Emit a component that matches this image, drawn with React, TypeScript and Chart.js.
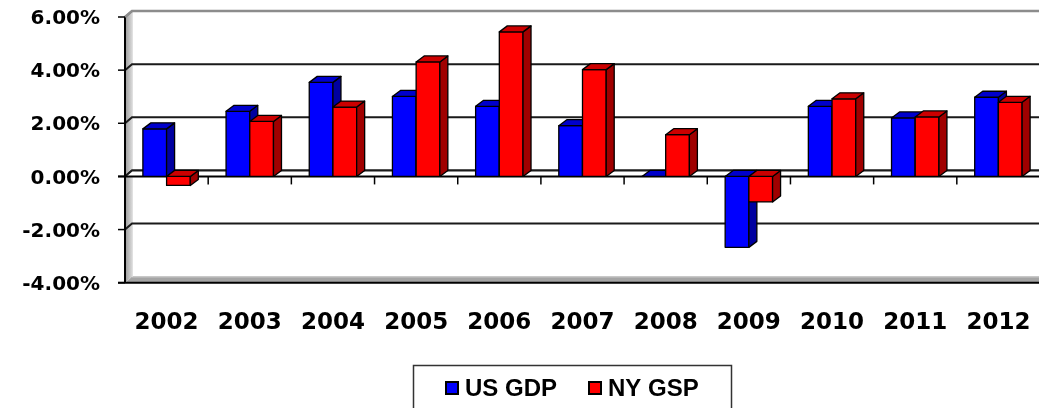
import React, { useEffect, useRef } from 'react';
import { Chart, registerables } from 'chart.js';
Chart.register(...registerables);

const years = ['2002', '2003', '2004', '2005', '2006', '2007', '2008', '2009', '2010', '2011', '2012'];
const usGdp = [1.79, 2.45, 3.54, 3.01, 2.64, 1.91, 0.0, -2.67, 2.64, 2.2, 2.98];
const nyGsp = [-0.34, 2.07, 2.61, 4.31, 5.44, 4.02, 1.57, -0.96, 2.92, 2.24, 2.79];
const yMin = -4;
const yMax = 6;
const yStep = 2;

const seriesColors = [
  { front: '#0000FF', top: '#0000CC', side: '#0000A0' },
  { front: '#FF0000', top: '#CC0000', side: '#A00000' },
];

const BDX = 8, BDY = 6; // bar depth
const WDX = 7, WDY = 6; // wall depth

const threeD = {
  id: 'threeD',
  beforeDatasetsDraw(chart: any) {
    const { ctx, chartArea, scales } = chart;
    const { left, right, top, bottom } = chartArea;
    const y = scales.y;
    const y0 = y.getPixelForValue(0);
    const R = right;
    ctx.save();
    const g = ctx.createLinearGradient(left, 0, left + WDX, 0);
    g.addColorStop(0, '#9a9a9a');
    g.addColorStop(1, '#d8d8d8');
    ctx.fillStyle = g;
    ctx.beginPath();
    ctx.moveTo(left, top);
    ctx.lineTo(left + WDX, top - WDY);
    ctx.lineTo(left + WDX, bottom - WDY);
    ctx.lineTo(left, bottom);
    ctx.closePath();
    ctx.fill();
    ctx.fillStyle = '#a4a4a4';
    ctx.beginPath();
    ctx.moveTo(left, bottom);
    ctx.lineTo(left + WDX, bottom - WDY);
    ctx.lineTo(R + WDX, bottom - WDY);
    ctx.lineTo(R, bottom);
    ctx.closePath();
    ctx.fill();
    ctx.strokeStyle = '#c8c8c8';
    ctx.lineWidth = 1.5;
    ctx.beginPath();
    ctx.moveTo(left + WDX, bottom - WDY);
    ctx.lineTo(R + WDX, bottom - WDY);
    ctx.stroke();
    ctx.strokeStyle = '#e0e0e0';
    ctx.lineWidth = 1;
    ctx.beginPath();
    ctx.moveTo(left + WDX + 0.5, top - WDY);
    ctx.lineTo(left + WDX + 0.5, bottom - WDY);
    ctx.stroke();
    y.ticks.forEach((t: any) => {
      const v = t.value;
      const py = y.getPixelForValue(v);
      if (v === yMin) return;
      const isTop = v === yMax;
      ctx.strokeStyle = isTop ? '#8c8c8c' : '#1a1a1a';
      ctx.lineWidth = isTop ? 2.5 : 2;
      ctx.beginPath();
      ctx.moveTo(left, py);
      ctx.lineTo(left + WDX, py - WDY);
      ctx.lineTo(R + WDX, py - WDY);
      ctx.stroke();
    });
    ctx.fillStyle = '#ffffff';
    ctx.beginPath();
    ctx.moveTo(left, y0);
    ctx.lineTo(left + WDX, y0 - WDY);
    ctx.lineTo(R + WDX, y0 - WDY);
    ctx.lineTo(R, y0);
    ctx.closePath();
    ctx.fill();
    ctx.strokeStyle = '#1a1a1a';
    ctx.lineWidth = 2;
    ctx.beginPath();
    ctx.moveTo(left, y0);
    ctx.lineTo(left + WDX, y0 - WDY);
    ctx.lineTo(R + WDX, y0 - WDY);
    ctx.stroke();
    ctx.restore();
  },
  beforeDatasetDraw() {
    return false;
  },
  afterDatasetsDraw(chart: any) {
    const { ctx, chartArea, scales } = chart;
    const { left, right, top, bottom } = chartArea;
    const y = scales.y;
    const y0 = y.getPixelForValue(0);
    const R = right;
    ctx.save();
    ctx.strokeStyle = '#000';
    ctx.lineWidth = 2;
    ctx.beginPath();
    ctx.moveTo(left - 7, y0);
    ctx.lineTo(R, y0);
    ctx.stroke();
    const n = chart.data.labels.length;
    ctx.lineWidth = 1.5;
    for (let i = 0; i <= n; i++) {
      const xb = left + (i * (R - left)) / n;
      ctx.beginPath();
      ctx.moveTo(xb, y0);
      ctx.lineTo(xb, y0 + 8);
      ctx.stroke();
    }
    ctx.lineJoin = 'round';
    for (let i = 0; i < n; i++) {
      chart.data.datasets.forEach((ds: any, d: number) => {
        const meta = chart.getDatasetMeta(d);
        const el = meta.data[i];
        if (!el) return;
        const p = el.getProps(['x', 'y', 'base', 'width'], true);
        const l = p.x - p.width / 2;
        const r = p.x + p.width / 2;
        const t = Math.min(p.y, p.base);
        const b = Math.max(p.y, p.base);
        const c = seriesColors[d];
        ctx.strokeStyle = '#000';
        ctx.lineWidth = 1.3;
        ctx.fillStyle = c.front;
        ctx.beginPath();
        ctx.rect(l, t, r - l, b - t);
        ctx.fill();
        ctx.stroke();
        ctx.fillStyle = c.side;
        ctx.beginPath();
        ctx.moveTo(r, t);
        ctx.lineTo(r + BDX, t - BDY);
        ctx.lineTo(r + BDX, b - BDY);
        ctx.lineTo(r, b);
        ctx.closePath();
        ctx.fill();
        ctx.stroke();
        ctx.fillStyle = c.top;
        ctx.beginPath();
        ctx.moveTo(l, t);
        ctx.lineTo(l + BDX, t - BDY);
        ctx.lineTo(r + BDX, t - BDY);
        ctx.lineTo(r, t);
        ctx.closePath();
        ctx.fill();
        ctx.stroke();
      });
    }
    ctx.strokeStyle = '#000';
    ctx.lineWidth = 2;
    ctx.beginPath();
    ctx.moveTo(left, top);
    ctx.lineTo(left, bottom);
    ctx.moveTo(left - 7, bottom);
    ctx.lineTo(R, bottom);
    ctx.stroke();
    ctx.strokeStyle = '#8c8c8c';
    ctx.beginPath();
    ctx.moveTo(left, top);
    ctx.lineTo(left + WDX, top - WDY);
    ctx.stroke();
    ctx.strokeStyle = '#000';
    ctx.lineWidth = 1.5;
    y.ticks.forEach((tk: any) => {
      const py = y.getPixelForValue(tk.value);
      ctx.beginPath();
      ctx.moveTo(left - 7, py);
      ctx.lineTo(left, py);
      ctx.stroke();
    });
    ctx.restore();
  },
  afterDraw(chart: any) {
    const { ctx } = chart;
    ctx.save();
    ctx.strokeStyle = '#333';
    ctx.lineWidth = 1.5;
    ctx.strokeRect(413.5, 365.5, 318, 60);
    ctx.font = 'bold 24px "Liberation Sans", Arial, sans-serif';
    ctx.textBaseline = 'middle';
    ctx.textAlign = 'left';
    const items = [
      { mx: 446, tx: 465 },
      { mx: 589, tx: 608 },
    ];
    chart.data.datasets.forEach((ds: any, d: number) => {
      const it = items[d];
      ctx.fillStyle = seriesColors[d].front;
      ctx.fillRect(it.mx, 382, 12, 12);
      ctx.strokeStyle = '#000';
      ctx.lineWidth = 2;
      ctx.strokeRect(it.mx, 382, 12, 12);
      ctx.fillStyle = '#000';
      ctx.fillText(ds.label, it.tx, 389);
    });
    ctx.restore();
  },
};

export default function App() {
  const ref = useRef<HTMLCanvasElement>(null);
  useEffect(() => {
    const chart = new Chart(ref.current!, {
      type: 'bar',
      data: {
        labels: years,
        datasets: [
          { label: 'US GDP', data: usGdp, backgroundColor: seriesColors[0].front },
          { label: 'NY GSP', data: nyGsp, backgroundColor: seriesColors[1].front },
        ],
      },
      options: {
        responsive: false,
        animation: false,
        devicePixelRatio: 1,
        layout: { padding: { left: 0, top: 17, right: 40, bottom: 0 } },
        datasets: { bar: { categoryPercentage: 0.57, barPercentage: 1 } },
        plugins: { legend: { display: false }, tooltip: { enabled: false }, title: { display: false } },
        scales: {
          x: {
            grid: { display: false, drawTicks: false },
            border: { display: false },
            ticks: {
              color: '#000',
              padding: 27,
              maxRotation: 0,
              font: { family: 'DejaVu Sans', weight: 'bold', size: 23 },
            },
            afterFit: (s: any) => {
              s.height = 125.3;
            },
          },
          y: {
            min: yMin,
            max: yMax,
            grid: { display: false, drawTicks: true, tickLength: 25 },
            border: { display: false },
            ticks: {
              stepSize: yStep,
              color: '#000',
              padding: 0,
              labelOffset: 2,
              font: { family: 'DejaVu Sans', weight: 'bold', size: 20 },
              callback: (v: any) => Number(v).toFixed(2) + '%',
            },
            afterFit: (s: any) => {
              s.width = 125;
            },
          },
        },
      },
      plugins: [threeD],
    });
    return () => chart.destroy();
  }, []);
  return (
    <div style={{ position: 'absolute', left: 0, top: 0, width: 1039, height: 408, overflow: 'hidden', background: '#fff' }}>
      <canvas ref={ref} width={1080} height={408} style={{ width: 1080, height: 408, display: 'block' }} />
    </div>
  );
}
